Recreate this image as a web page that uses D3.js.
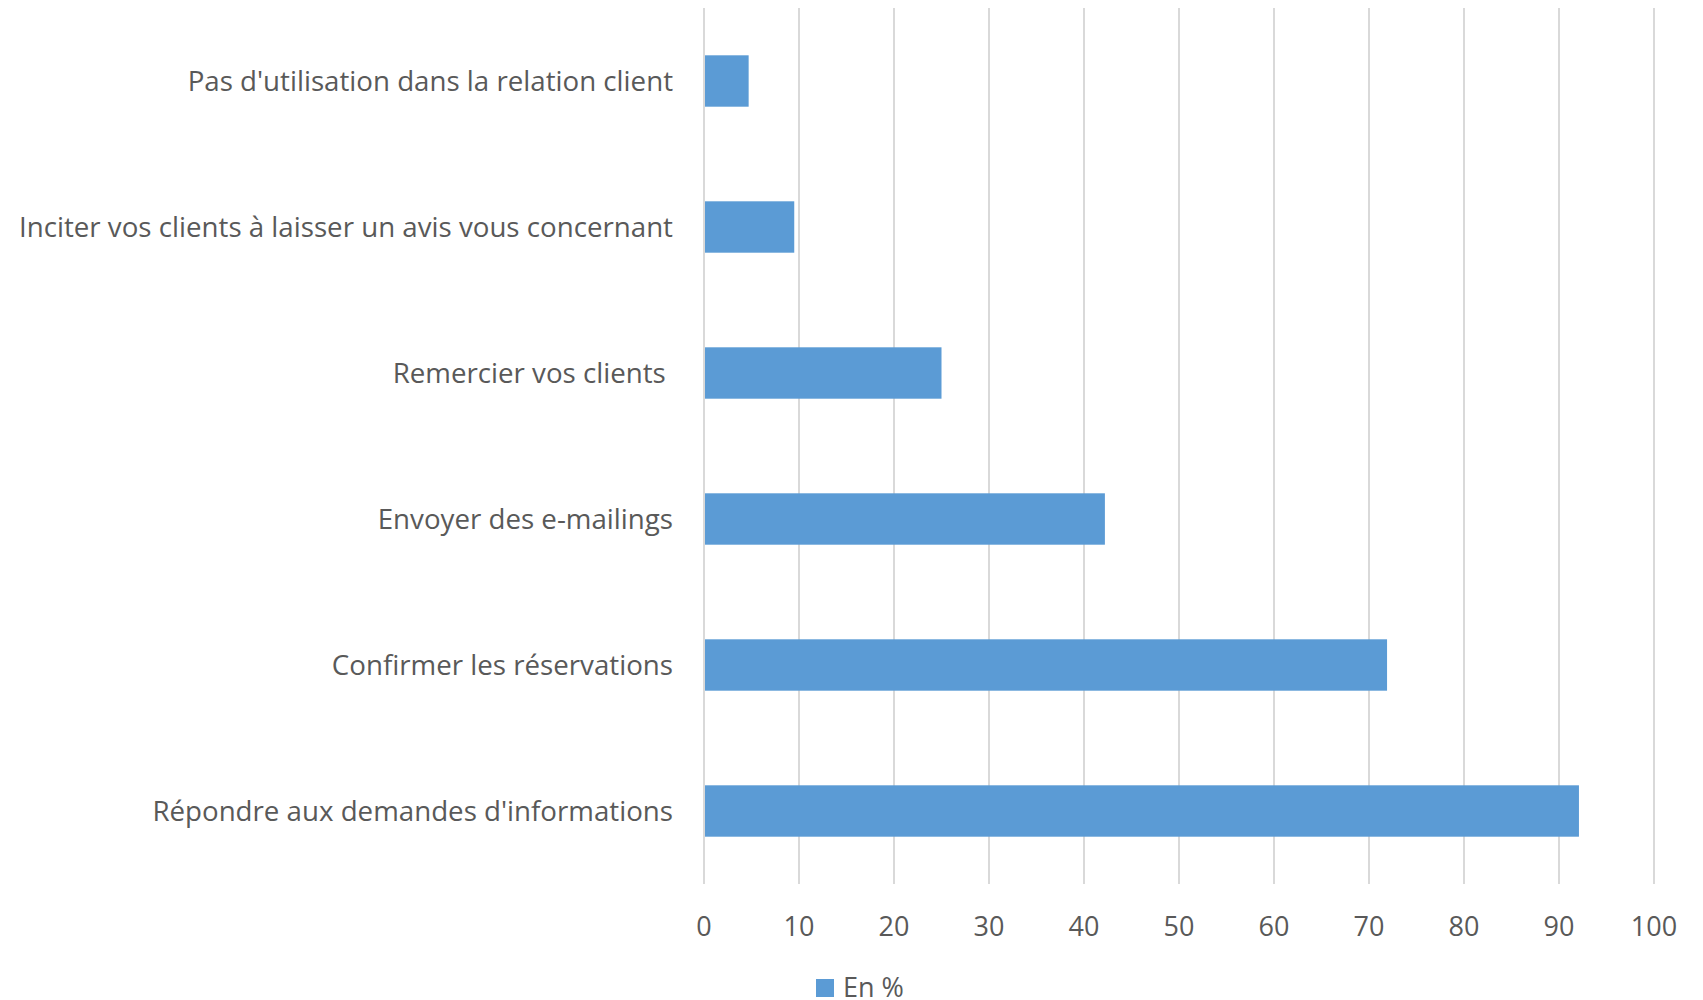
<!DOCTYPE html>
<html>
<head>
<meta charset="utf-8">
<script src="https://cdn.jsdelivr.net/npm/d3@7"></script>
<style>
  body { margin: 0; background: #fff; }
  text { font-family: "Open Sans", sans-serif; fill: #595959; white-space: pre; }
</style>
</head>
<body>
<svg id="chart" width="1703" height="1000"></svg>
<script>
// categories, top to bottom
var categories = [
    "Pas d'utilisation dans la relation client",
    "Inciter vos clients à laisser un avis vous concernant",
    "Remercier vos clients ",
    "Envoyer des e-mailings",
    "Confirmer les réservations",
    "Répondre aux demandes d'informations"
];
var values = [4.7, 9.5, 25.0, 42.2, 71.9, 92.1];
var xTicks = [0, 10, 20, 30, 40, 50, 60, 70, 80, 90, 100];
var seriesName = "En %";

var svg = d3.select("#chart");
var plot = { left: 704, right: 1654, top: 8, bottom: 884 };

var x = d3.scaleLinear().domain([0, 100]).range([plot.left, plot.right]);
var y = d3.scaleBand().domain(categories).range([plot.top, plot.bottom]).paddingInner(0.648).paddingOuter(0.324);

// gridlines
svg.append("g")
    .selectAll("line")
    .data(xTicks)
    .join("line")
    .attr("x1", d => x(d))
    .attr("x2", d => x(d))
    .attr("y1", plot.top)
    .attr("y2", plot.bottom)
    .attr("stroke", "#d9d9d9")
    .attr("stroke-width", 2);

// bars
svg.append("g")
    .selectAll("rect")
    .data(values)
    .join("rect")
    .attr("x", x(0) + 1)
    .attr("y", (d, i) => y(categories[i]))
    .attr("width", d => x(d) - x(0) - 1)
    .attr("height", y.bandwidth())
    .attr("fill", "#5b9bd5");

// x axis labels
svg.append("g")
    .selectAll("text")
    .data(xTicks)
    .join("text")
    .attr("x", d => x(d))
    .attr("y", 927)
    .attr("dy", "0.35em")
    .attr("text-anchor", "middle")
    .style("font-size", "27px")
    .text(d => d);

// category labels
svg.append("g")
    .selectAll("text")
    .data(categories)
    .join("text")
    .attr("x", 673)
    .attr("y", d => y(d) + y.bandwidth() / 2)
    .attr("dy", "0.35em")
    .attr("text-anchor", "end")
    .style("font-size", "27.7px")
    .text(d => d);

// legend
var legend = svg.append("g");
legend.append("rect")
    .attr("x", 816).attr("y", 979)
    .attr("width", 18).attr("height", 18)
    .attr("fill", "#5b9bd5");
legend.append("text")
    .attr("x", 843).attr("y", 988)
    .attr("dy", "0.35em")
    .style("font-size", "27px")
    .text(seriesName);
</script>
</body>
</html>
